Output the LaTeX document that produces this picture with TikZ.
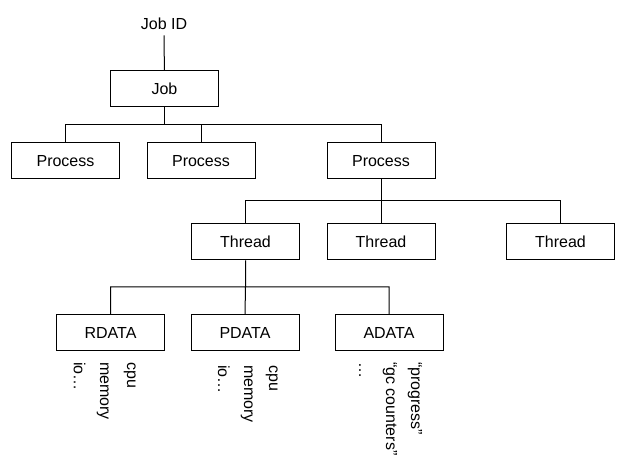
\documentclass[tikz,border=0pt]{standalone}
\usepackage{fontspec}
\setmainfont{Liberation Sans}

\tikzset{x=1pt, y=-1pt, node font=\fontsize{16}{19}\selectfont,
  box/.style={draw, line width=1pt, minimum width=108pt, minimum height=36pt, inner sep=0pt},
  field/.style={rotate=-90, anchor=west, inner sep=0pt, text height=0.75em, text depth=0.25em},
  link/.style={line width=1pt}}

\begin{document}
\begin{tikzpicture}
    \useasboundingbox (0,0) rectangle (625,473);
    \node (jobid) at (164,24) {Job ID};
    \node [box] (job) at (164.5,89) {Job};
    \node [box] (proca) at (65.5,161) {Process};
    \node [box] (procb) at (201,161) {Process};
    \node [box] (procc) at (381,161) {Process};
    \node [box] (threada) at (245.5,242) {Thread};
    \node [box] (threadb) at (381,242) {Thread};
    \node [box] (threadc) at (560.5,242) {Thread};
    \node [box] (rdata) at (110.5,332.5) {RDATA};
    \node [box] (pdata) at (245,332.5) {PDATA};
    \node [box] (adata) at (389,332.5) {ADATA};
    \coordinate (busa) at (0,125);
    \coordinate (busb) at (0,201);
    \coordinate (busc) at (0,287);
    % fields below the data boxes
    \node [field] (rio) at (78,362) {io…};
    \node [field] (rmem) at (104,362) {memory};
    \node [field] (rcpu) at (131,362) {cpu};
    \node [field] (pio) at (222,365) {io…};
    \node [field] (pmem) at (248,365) {memory};
    \node [field] (pcpu) at (273,365) {cpu};
    \node [field] (adots) at (363,362) {…};
    \node [field] (agc) at (390,362) {“gc counters”};
    \node [field] (aprog) at (415,362) {“progress”};
    \draw [link] (jobid) -- (job);
    \draw [link]
      (job.south) -- (job.south |- busa) -| (proca.north)
      (job.south |- busa) -| (procb.north)
      (job.south |- busa) -| (procc.north);
    \draw [link]
      (procc.south) -- (procc.south |- busb) -| (threada.north)
      (procc.south |- busb) -- (threadb.north)
      (procc.south |- busb) -| (threadc.north);
    \draw [link]
      (threada.south) -- (threada.south |- busc) -| (rdata.north)
      (threada.south |- busc) -- (pdata.north)
      (threada.south |- busc) -| (adata.north);
  \end{tikzpicture}
\end{document}
